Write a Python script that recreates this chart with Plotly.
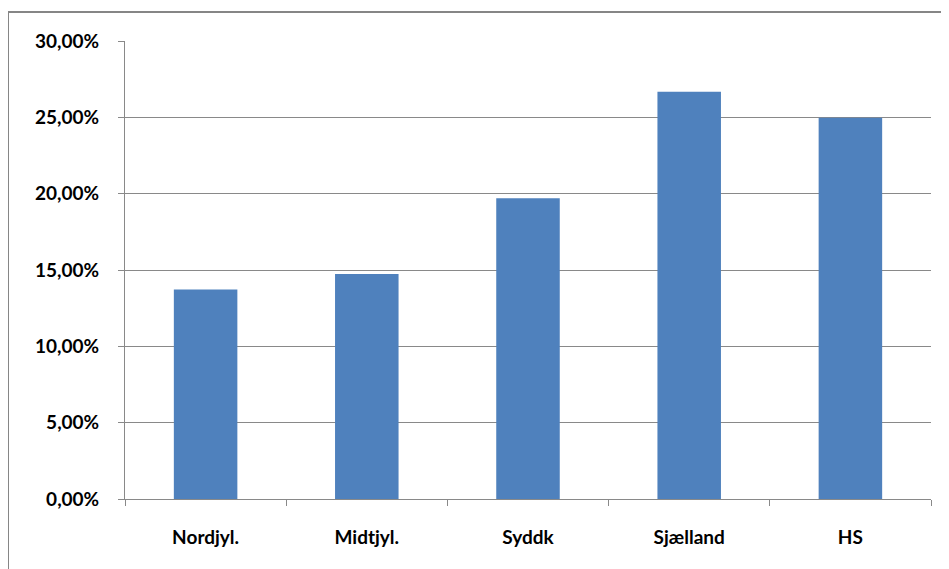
import plotly.graph_objects as go

categories = ["Nordjyl.", "Midtjyl.", "Syddk", "Sjælland", "HS"]
values = [0.1372, 0.1473, 0.1970, 0.2668, 0.2497]
y_ticks = [0, 0.05, 0.10, 0.15, 0.20, 0.25, 0.30]

fig = go.Figure(go.Bar(
    x=categories, y=values,
    marker=dict(color="#4F81BD", line=dict(width=0)),
    width=0.394,
))

grid = "#898989"
tfont = dict(family="Lato", size=19, color="#000000", weight="bold")
fig.update_layout(
    width=941, height=561,
    margin=dict(l=117, r=18, t=33, b=70, autoexpand=False),
    paper_bgcolor="white", plot_bgcolor="white",
    separators=",.",
    showlegend=False,
    font=dict(family="Lato", size=12, color="#000000"),
    xaxis=dict(
        showline=True, linecolor=grid, linewidth=1,
        ticks="outside", tickson="boundaries", ticklen=6, tickcolor=grid,
        showgrid=False, ticklabelstandoff=21,
        tickfont=tfont,
    ),
    yaxis=dict(
        range=[0, 0.30], tickvals=y_ticks, tickformat=".2%",
        showline=True, linecolor=grid, linewidth=1,
        ticks="outside", ticklen=6, tickcolor=grid,
        showgrid=True, gridcolor=grid, gridwidth=1,
        zeroline=False, ticklabelstandoff=15,
        tickfont=tfont,
    ),
    shapes=[dict(
        type="rect", xref="paper", yref="paper",
        x0=(8 - 125) / 806, x1=1.2,
        y0=-0.3, y1=(498.7 - 12) / 457.7,
        line=dict(color="#868686", width=2), layer="below",
    )],
)

fig.write_html("out.html")
